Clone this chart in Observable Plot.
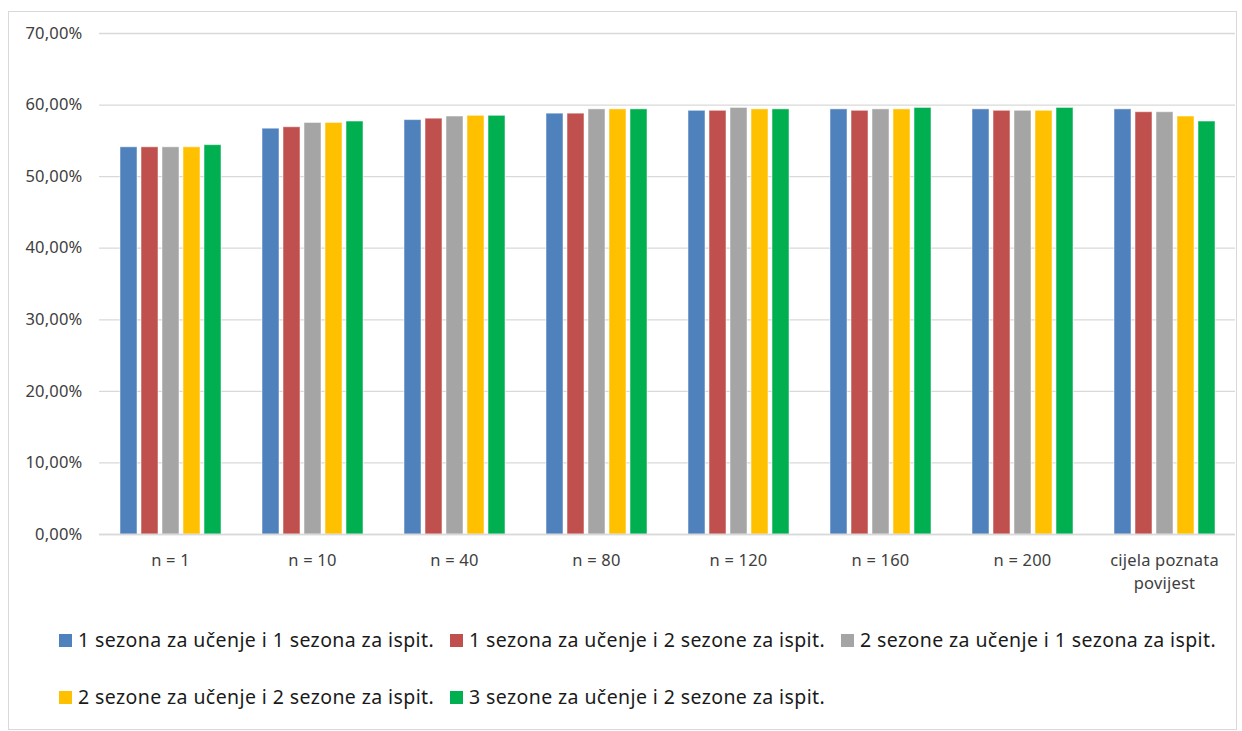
<!DOCTYPE html>
<html>
<head>
<meta charset="utf-8">
<script src="https://cdn.jsdelivr.net/npm/d3@7"></script>
<script src="https://cdn.jsdelivr.net/npm/@observablehq/plot@0.6"></script>
<style>
  body { margin: 0; background: #fff; font-family: "Noto Sans", "Liberation Sans", sans-serif; }
  #frame { position: absolute; left: 8px; top: 11px; width: 1227px; height: 717px; border: 1px solid #d9d9d9; }
  #chart { position: absolute; left: 0; top: 0; }
  #chart text { letter-spacing: 0.2px; }
  #legend { position: absolute; left: 59px; top: 627px; width: 1180px; }
  .row { display: flex; height: 57px; }
  .item { width: 391px; display: flex; align-items: flex-start; font-size: 19.5px; color: #1a1a1a; white-space: nowrap; line-height: 26px; letter-spacing: 0.4px; }
  .sw { width: 13px; height: 13px; margin: 7px 6px 0 0; flex: none; }
</style>
</head>
<body>
<div id="frame"></div>
<div id="chart"></div>
<div id="legend"></div>
<script>
const categories = ["n = 1", "n = 10", "n = 40", "n = 80", "n = 120", "n = 160", "n = 200", "cijela poznata povijest"];
const seriesNames = [
  "1 sezona za učenje i 1 sezona za ispit.",
  "1 sezona za učenje i 2 sezone za ispit.",
  "2 sezone za učenje i 1 sezona za ispit.",
  "2 sezone za učenje i 2 sezone za ispit.",
  "3 sezone za učenje i 2 sezone za ispit."
];
const colors = ["#4f81bd", "#c0504d", "#a5a5a5", "#ffc000", "#00b050"];
const s1 = [54.1, 56.7, 57.9, 58.8, 59.2, 59.4, 59.4, 59.4];
const s2 = [54.1, 56.9, 58.1, 58.8, 59.2, 59.2, 59.2, 59.0];
const s3 = [54.1, 57.5, 58.4, 59.4, 59.6, 59.4, 59.2, 59.0];
const s4 = [54.1, 57.5, 58.5, 59.4, 59.4, 59.4, 59.2, 58.4];
const s5 = [54.4, 57.7, 58.5, 59.4, 59.4, 59.6, 59.6, 57.7];
const yTicks = [0, 10, 20, 30, 40, 50, 60, 70];

const seriesValues = [s1, s2, s3, s4, s5];
const data = [];
categories.forEach((c, i) => {
  seriesNames.forEach((s, j) => data.push({cat: c, series: s, value: seriesValues[j][i]}));
});

const fmt = d => d.toFixed(2).replace(".", ",") + "%";
const catLabel = c => c === "cijela poznata povijest" ? "cijela poznata\npovijest" : c;

const plot = Plot.plot({
  width: 1242,
  height: 610,
  marginLeft: 97,
  marginRight: 6,
  marginTop: 33,
  marginBottom: 76,
  style: { fontFamily: "'Noto Sans', 'Liberation Sans', sans-serif", fontSize: "16.5px", color: "#404040", background: "transparent" },
  y: { domain: [0, 70], label: null },
  fx: { domain: categories, padding: 0, label: null },
  x: { domain: seriesNames, axis: null, paddingInner: 0.2, paddingOuter: 0.9 },
  color: { domain: seriesNames, range: colors },
  marks: [
    Plot.ruleY(yTicks, { stroke: "#d9d9d9", strokeWidth: 1.3 }),
    Plot.axisY({ ticks: yTicks, tickFormat: fmt, tickSize: 0, tickPadding: 17, label: null, fill: "#404040" }),
    Plot.axisFx({ anchor: "bottom", tickFormat: catLabel, tickSize: 0, tickPadding: 15, lineHeight: 1.4, label: null, fill: "#404040" }),
    Plot.barY(data, { fx: "cat", x: "series", y: "value", fill: "series", stroke: "#ffffff", strokeOpacity: 0.5, strokeWidth: 1 }),
    Plot.ruleY([0], { stroke: "#d9d9d9", strokeWidth: 1.5 })
  ]
});
document.getElementById("chart").appendChild(plot);

const legend = document.getElementById("legend");
const rows = [[0, 1, 2], [3, 4]];
rows.forEach(r => {
  const row = document.createElement("div");
  row.className = "row";
  r.forEach(j => {
    const it = document.createElement("div");
    it.className = "item";
    const sw = document.createElement("span");
    sw.className = "sw";
    sw.style.background = colors[j];
    const t = document.createElement("span");
    t.textContent = seriesNames[j];
    it.appendChild(sw); it.appendChild(t);
    row.appendChild(it);
  });
  legend.appendChild(row);
});
</script>
</body>
</html>
